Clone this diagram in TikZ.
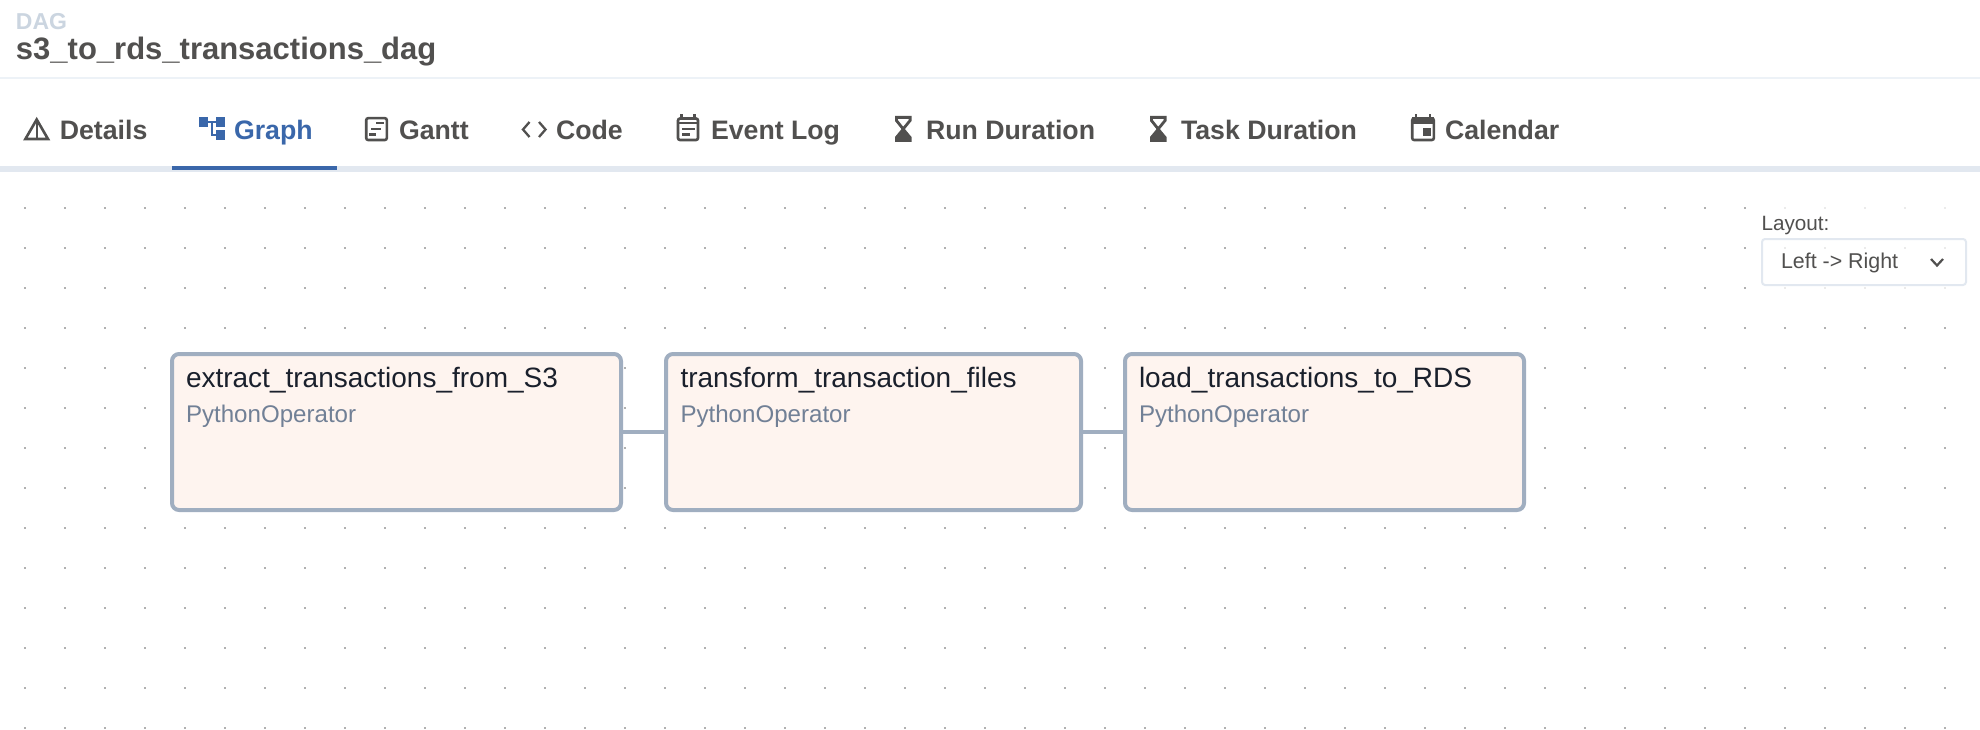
\documentclass[tikz,border=0pt]{standalone}
\usepackage{fontspec}
\setmainfont{Liberation Sans}
\definecolor{inktext}{HTML}{51504F}
\definecolor{daglabel}{HTML}{CBD5E0}
\definecolor{taskink}{HTML}{1A202C}
\definecolor{opink}{HTML}{718096}
\definecolor{tabblue}{HTML}{3A67AA}
\definecolor{hairline}{HTML}{EDF2F7}
\definecolor{tabline}{HTML}{E2E8F0}
\definecolor{taskfill}{HTML}{FEF4EF}
\definecolor{taskedge}{HTML}{A0AEC0}
\definecolor{griddot}{HTML}{B0B0B0}
\newcommand{\fsz}[1]{\fontsize{#1}{#1}\selectfont}
\tikzset{
  x=1pt,y=-1pt,
  txt/.style={anchor=base west,inner sep=0pt,outer sep=0pt},
  tabtxt/.style={txt,text=inktext,font=\fsz{26.7}\bfseries},
  tasktitle/.style={txt,text=taskink,font=\fsz{28}},
  taskop/.style={txt,text=opink,font=\fsz{24.1}},
  taskbox/.style={draw=taskedge,fill=taskfill,line width=4pt,rounded corners=7pt,minimum height=156pt,anchor=north west,inner sep=0pt},
  edgeline/.style={draw=taskedge,line width=4pt},
  icon/.style={draw=inktext,line width=2.6pt},
}
\begin{document}
\begin{tikzpicture}
\useasboundingbox (0,0) rectangle (1980,730);
\fill[white] (0,0) rectangle (1980,730);
% dotted grid
\foreach \gx in {25,65,...,1945}{
  \foreach \gy in {208,248,...,728}{
    \fill[griddot] (\gx-0.9,\gy-0.9) rectangle (\gx+0.9,\gy+0.9);
  }
}
% veil over the layout control
\fill[white,opacity=0.75] (1761,200) rectangle (1967,291);

% header
\node[txt,text=daglabel,font=\fsz{23}\bfseries] (daglbl) at (16,29.5) {DAG};
\node[txt,text=inktext,font=\fsz{31}\bfseries] (dagname) at (16,60) {s3\_to\_rds\_transactions\_dag};
\fill[hairline] (0,77) rectangle (1980,79.5);

% tab bar
\fill[tabline] (0,166) rectangle (1980,172);
\fill[tabblue] (172,166) rectangle (337,170.5);
\node[tabtxt] (tdetails) at (59.8,139.2) {Details};
\node[tabtxt,text=tabblue] (tgraph) at (234,139.2) {Graph};
\node[tabtxt] (tgantt) at (399,139.2) {Gantt};
\node[tabtxt] (tcode) at (556,139.2) {Code};
\node[tabtxt] (tevent) at (711,139.2) {Event Log};
\node[tabtxt] (trun) at (926,139.2) {Run Duration};
\node[tabtxt] (ttask) at (1181,139.2) {Task Duration};
\node[tabtxt] (tcal) at (1445,139.2) {Calendar};

% Details icon
\draw[icon,line join=miter] (36.7,119.5) -- (48,139) -- (25.4,139) -- cycle;
\draw[icon,line width=2.2pt] (36.7,120) -- (36.7,139);
% Graph icon
\fill[tabblue] (199,117) rectangle (208,127);
\fill[tabblue] (216,117) rectangle (225,127);
\fill[tabblue] (216,130) rectangle (225,140);
\draw[tabblue,line width=2.2pt] (208,122) -- (216,122) (212,122) -- (212,135) -- (216,135);
% Gantt icon
\draw[icon,rounded corners=2pt] (366.2,118.2) rectangle (386.8,140);
\draw[icon,line width=2.2pt] (376,123) -- (384,123) (371,129) -- (381,129) (369,134.5) -- (376,134.5);
% Code icon
\draw[icon,line width=2.3pt] (529.5,122) -- (523,129.5) -- (529.5,137);
\draw[icon,line width=2.3pt] (539,122) -- (545.5,129.5) -- (539,137);
% Event log icon
\draw[icon,rounded corners=2pt] (678,118.5) rectangle (698,140);
\draw[icon,line width=2.2pt] (678,123) -- (698,123) (681.5,114.5) -- (681.5,118.5) (694.5,114.5) -- (694.5,118.5);
\draw[icon,line width=2.2pt] (682,129) -- (694.5,129) (682,134.5) -- (690,134.5);
% hourglass icons
\foreach \hx in {895,1150}{
  \draw[icon,line width=2.8pt,line join=miter] (\hx+1.4,117.4) -- (\hx+15.1,117.4) -- (\hx+15.1,120.5) -- (\hx+8.2,129) -- (\hx+1.4,120.5) -- cycle;
  \fill[inktext] (\hx+8.2,127) -- (\hx,137) -- (\hx,142) -- (\hx+16.5,142) -- (\hx+16.5,137) -- cycle;
}
% Calendar icon
\draw[icon,rounded corners=2pt] (1412.2,118.5) rectangle (1433.8,140);
\fill[inktext] (1412.2,117) rectangle (1433.8,124);
\draw[icon,line width=2.2pt] (1416,114.5) -- (1416,118) (1430,114.5) -- (1430,118);
\fill[inktext] (1423,128) rectangle (1431,136);

% layout control
\node[txt,text=inktext,font=\fsz{20.7}] (laylbl) at (1761.5,230) {Layout:};
\node[draw=tabline,line width=2pt,rounded corners=3pt,minimum width=204pt,minimum height=46pt,anchor=north west,inner sep=0pt] (laybox) at (1761,238) {};
\node[txt,text=inktext,font=\fsz{21.4}] (layval) at (1781,268) {Left -> Right};
\draw[inktext,line width=2.2pt] (1931,259) -- (1937,265.5) -- (1943,259);

% tasks
\node[taskbox,minimum width=449pt] (extract) at (170,352) {};
\node[taskbox,minimum width=415pt] (transform) at (664,352) {};
\node[taskbox,minimum width=399pt] (load) at (1123,352) {};
\draw[edgeline] (extract.east) -- (transform.west);
\draw[edgeline] (transform.east) -- (load.west);
\node[tasktitle] (t1) at (186,387) {extract\_transactions\_from\_S3};
\node[taskop] (o1) at (186,422) {PythonOperator};
\node[tasktitle] (t2) at (680.5,387) {transform\_transaction\_files};
\node[taskop] (o2) at (680.5,422) {PythonOperator};
\node[tasktitle] (t3) at (1139,387) {load\_transactions\_to\_RDS};
\node[taskop] (o3) at (1139,422) {PythonOperator};
\end{tikzpicture}
\end{document}
